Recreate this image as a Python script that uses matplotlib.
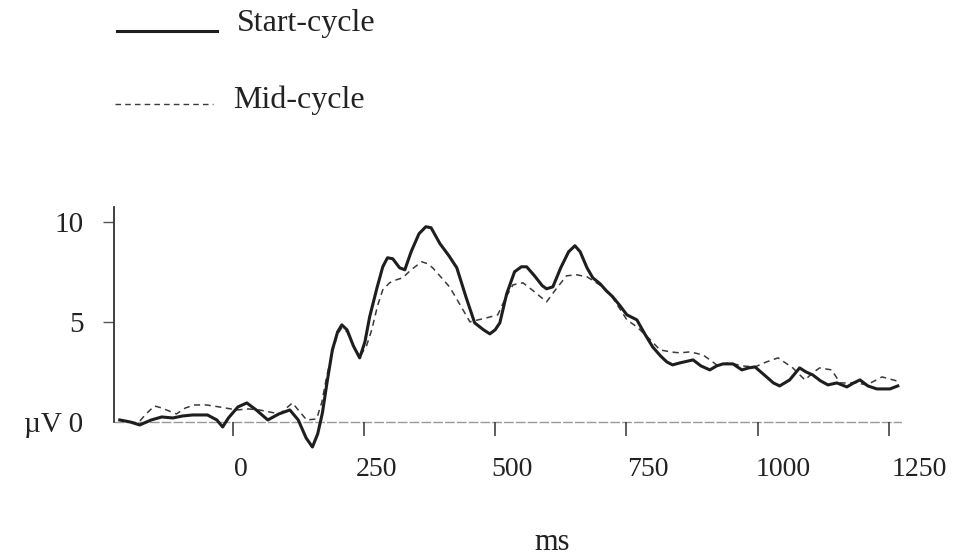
import numpy as np
import matplotlib as mpl
mpl.use('Agg')
import matplotlib.pyplot as plt
import matplotlib.transforms as mtransforms

# waveforms (time in ms, amplitude in microvolts)
start_ms = [-215, -195, -177, -155, -135, -114, -95, -76, -48, -30, -19, -8, 10, 27, 45,
            67, 88, 109, 125, 140, 152, 162, 171, 180, 190, 200, 208, 218, 230, 242,
            252, 261, 275, 286, 295, 305, 318, 328, 340, 355, 368, 378, 395, 412, 427,
            445, 461, 478, 490, 500, 509, 522, 537, 550, 560, 575, 590, 598, 610, 625,
            640, 652, 662, 675, 686, 700, 712, 724, 738, 751, 770, 785, 800, 815, 827,
            838, 852, 877, 892, 909, 922, 934, 953, 970, 983, 995, 1017, 1030, 1042, 1061,
            1080, 1092, 1105, 1120, 1134, 1151, 1170, 1183, 1195, 1210, 1227, 1252, 1267]
start_uv = [0.1, 0.0, -0.15, 0.1, 0.25, 0.2, 0.3, 0.35, 0.35, 0.1, -0.25, 0.2, 0.75, 0.95, 0.6,
            0.1, 0.4, 0.6, 0.1, -0.8, -1.25, -0.6, 0.45, 2.0, 3.6, 4.5, 4.85, 4.6, 3.8, 3.2,
            4.0, 5.25, 6.7, 7.75, 8.2, 8.15, 7.7, 7.6, 8.5, 9.4, 9.75, 9.7, 8.9, 8.3, 7.7,
            6.2, 4.95, 4.6, 4.4, 4.6, 4.95, 6.4, 7.5, 7.75, 7.75, 7.3, 6.8, 6.65, 6.75, 7.7,
            8.5, 8.8, 8.5, 7.7, 7.2, 6.9, 6.55, 6.25, 5.8, 5.35, 5.1, 4.4, 3.75, 3.3, 3.0,
            2.85, 2.95, 3.1, 2.8, 2.6, 2.8, 2.9, 2.9, 2.6, 2.7, 2.75, 2.25, 1.95, 1.8, 2.1,
            2.7, 2.5, 2.35, 2.05, 1.85, 1.95, 1.75, 1.95, 2.1, 1.8, 1.65, 1.65, 1.8]

mid_ms = [-215, -195, -180, -165, -149, -135, -126, -107, -90, -72, -50, -25, 8, 30, 51,
          70, 90, 105, 114, 125, 141, 160, 170, 179, 190, 200, 208, 218, 230, 242,
          255, 265, 276, 286, 299, 312, 324, 340, 360, 372, 381, 398, 413, 430, 452,
          468, 484, 505, 520, 534, 553, 575, 598, 615, 636, 655, 675, 699, 724, 751,
          770, 792, 814, 834, 852, 871, 896, 922, 947, 970, 995, 1017, 1039, 1067, 1090,
          1105, 1118, 1141, 1157, 1189, 1208, 1237, 1265]
mid_uv = [0.1, 0.0, -0.05, 0.4, 0.8, 0.7, 0.6, 0.4, 0.7, 0.85, 0.85, 0.75, 0.6, 0.65, 0.6,
          0.5, 0.4, 0.75, 0.95, 0.6, 0.1, 0.15, 1.0, 2.25, 3.5, 4.4, 4.7, 4.5, 3.8, 3.25,
          3.8, 4.6, 5.8, 6.6, 6.95, 7.1, 7.2, 7.6, 8.0, 7.9, 7.7, 7.2, 6.75, 6.0, 5.0,
          5.1, 5.2, 5.35, 6.2, 6.85, 6.95, 6.5, 6.0, 6.6, 7.3, 7.35, 7.25, 6.85, 6.2, 5.1,
          4.75, 4.2, 3.6, 3.5, 3.45, 3.5, 3.35, 2.85, 2.95, 2.8, 2.75, 3.0, 3.2, 2.7, 2.1,
          2.45, 2.7, 2.6, 1.95, 1.95, 1.85, 2.25, 2.05]

x_ticks = [0, 250, 500, 750, 1000, 1250]
y_ticks = [0, 5, 10]
y_labels = ['\u00b5V 0', '5', '10']

plt.rcParams['font.family'] = ['Liberation Serif', 'DejaVu Serif']
ink = '#1e1e1e'

fig = plt.figure(figsize=(9.61, 5.57), dpi=100)
ax = fig.add_axes([0.1186, 0.1849, 0.82, 0.444])

ax.plot(start_ms, start_uv, color=ink, lw=2.2, solid_joinstyle='round', zorder=3)
ax.plot(mid_ms, mid_uv, color='#3a3a3a', lw=1.1, ls=(0, (4, 3)), zorder=2)
ax.axhline(0, color='0.6', lw=1.0, ls=(0, (7, 1.5)), zorder=1)

ax.set_xlim(-226, 1275)
ax.set_ylim(-1.6, 10.75)

for s in ['top', 'right', 'bottom']:
    ax.spines[s].set_visible(False)
ax.spines['left'].set_bounds(0, 10.75)
ax.spines['left'].set_color('#333333')
ax.spines['left'].set_linewidth(1.3)
ax.spines['bottom'].set_position(('data', 0))

ax.set_xticks(x_ticks)
ax.set_xticklabels([str(t) for t in x_ticks])
ax.tick_params(axis='x', direction='out', length=10, width=1.1, color='#333333',
               pad=15, labelsize=20, labelcolor='#222222')
# labels sit a little to the right of their ticks in the original
for t, lab in zip(x_ticks, ax.get_xticklabels()):
    dx = (8 + 0.018 * t) / 100
    lab.set_transform(lab.get_transform() + mtransforms.ScaledTranslation(dx, 0, fig.dpi_scale_trans))

ax.set_yticks(y_ticks)
ax.set_yticklabels(y_labels)
ax.tick_params(axis='y', direction='out', length=8, width=1.0, color='#555555',
               pad=14, labelsize=21, labelcolor='#222222')
ax.yaxis.get_major_ticks()[0].tick1line.set_visible(False)

fig.text(552 / 961, 1 - 543 / 557, 'ms', ha='center', va='center', fontsize=22, color='#222222')

# legend drawn by hand at the top left
fig.add_artist(plt.Line2D([117 / 961, 217 / 961], [1 - 31 / 557, 1 - 31 / 557],
                          color=ink, lw=2.2))
fig.text(237 / 961, 1 - 23 / 557, 'Start-cycle', ha='left', va='center', fontsize=23, color='#222222')
fig.add_artist(plt.Line2D([115 / 961, 213 / 961], [1 - 104 / 557, 1 - 104 / 557],
                          color='#3a3a3a', lw=1.0, ls=(0, (4, 3))))
fig.text(233 / 961, 1 - 100 / 557, 'Mid-cycle', ha='left', va='center', fontsize=23, color='#222222')

fig.savefig('out.png', dpi=100)
